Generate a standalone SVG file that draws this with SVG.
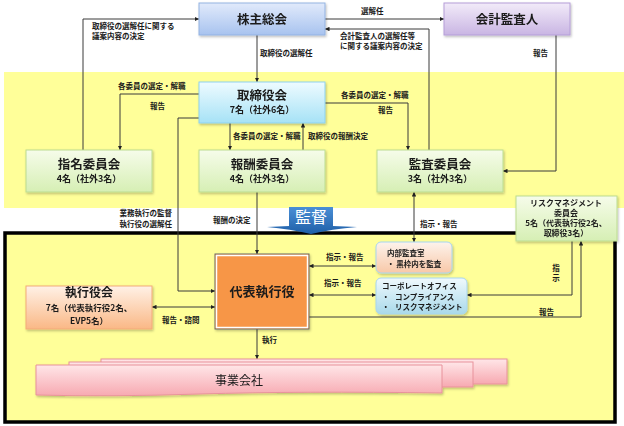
<svg xmlns="http://www.w3.org/2000/svg" width="624" height="426" viewBox="0 0 624 426">
<style>
text{font-family:"Noto Sans CJK JP","Noto Sans",sans-serif;fill:#1a1a1a;font-weight:bold}
.lb{font-size:7.5px}
.t{font-size:12.5px;text-anchor:middle}
.s{font-size:9px;text-anchor:middle}
.c{stroke:#3a3a3a;stroke-width:1;fill:none}
.a{marker-end:url(#ah)}
.b{marker-start:url(#as);marker-end:url(#ah)}
.m{font-size:7.5px}
</style>
<defs>
<marker id="ah" viewBox="0 0 8 8" refX="8" refY="4" markerWidth="4.5" markerHeight="4.5" orient="auto" markerUnits="userSpaceOnUse"><path d="M0,0L8,4L0,8z" fill="#222"/></marker>
<marker id="as" viewBox="0 0 8 8" refX="0" refY="4" markerWidth="4.5" markerHeight="4.5" orient="auto" markerUnits="userSpaceOnUse"><path d="M8,0L0,4L8,8z" fill="#222"/></marker>
<linearGradient id="gBlue" x1="0" y1="0" x2="0" y2="1"><stop offset="0" stop-color="#e1eafb"/><stop offset="1" stop-color="#a8c3ef"/></linearGradient>
<linearGradient id="gPur" x1="0" y1="0" x2="0" y2="1"><stop offset="0" stop-color="#f2ebf9"/><stop offset="1" stop-color="#c9b5e3"/></linearGradient>
<linearGradient id="gCyan" x1="0" y1="0" x2="0" y2="1"><stop offset="0" stop-color="#eefbff"/><stop offset="1" stop-color="#a6e2f6"/></linearGradient>
<linearGradient id="gGreen" x1="0" y1="0" x2="0" y2="1"><stop offset="0" stop-color="#f6fcea"/><stop offset="1" stop-color="#d6efb4"/></linearGradient>
<linearGradient id="gOr" x1="0" y1="0" x2="0" y2="1"><stop offset="0" stop-color="#fff1e6"/><stop offset="1" stop-color="#fab886"/></linearGradient>
<linearGradient id="gPeach" x1="0" y1="0" x2="0" y2="1"><stop offset="0" stop-color="#fdf3ec"/><stop offset="1" stop-color="#f8c8a8"/></linearGradient>
<linearGradient id="gLb" x1="0" y1="0" x2="0" y2="1"><stop offset="0" stop-color="#f0f9fd"/><stop offset="1" stop-color="#a9d9ea"/></linearGradient>
<linearGradient id="gPink" x1="0" y1="0" x2="0" y2="1"><stop offset="0" stop-color="#ffe6e8"/><stop offset="1" stop-color="#f7a9b1"/></linearGradient>
<linearGradient id="gKan" x1="0" y1="0" x2="0" y2="1"><stop offset="0" stop-color="#4a8fd6"/><stop offset="1" stop-color="#1f5fa8"/></linearGradient>
<filter id="sh" x="-10%" y="-10%" width="130%" height="140%"><feDropShadow dx="1" dy="1.5" stdDeviation="1" flood-color="#000" flood-opacity="0.25"/></filter>
</defs>

<!-- backgrounds -->
<rect x="4" y="72" width="620" height="136" fill="#ffff99"/>
<rect x="5" y="233" width="610" height="189" fill="#ffff99" stroke="#000" stroke-width="3.5"/>

<!-- connectors -->
<g id="connectors">
<path class="c a" d="M83,150V19H199"/>
<path class="c a" d="M199,94H120V150"/>
<path class="c a" d="M257,35V82"/>
<path class="c a" d="M325,19H444"/>
<path class="c a" d="M429,150V29H325"/>
<path class="c a" d="M556,35V171H503"/>
<path class="c a" d="M325,103H408V150"/>
<path class="c a" d="M230,123V150"/>
<path class="c a" d="M303,150V123"/>
<path class="c a" d="M199,118H178V291H215"/>
<path class="c a" d="M257,192V254"/>
<path class="c b" d="M414,192V242"/>
<path class="c b" d="M309,266H376"/>
<path class="c b" d="M309,295H376"/>
<path class="c a" d="M572,241V295H467"/>
<path class="c a" d="M309,317H581V241"/>
<path class="c a" d="M257,329V359"/>
<path class="c b" d="M152,307H215"/>
</g>

<!-- connector labels -->
<g id="labels" class="lb">
<text class="lb" x="92" y="29">取締役の選解任に関する</text>
<text class="lb" x="92" y="39">議案内容の決定</text>
<text class="lb" x="260" y="56">取締役の選解任</text>
<text class="lb" x="361" y="14">選解任</text>
<text class="lb" x="340" y="39">会計監査人の選解任等</text>
<text class="lb" x="340" y="49">に関する議案内容の決定</text>
<text class="lb" x="533" y="56">報告</text>
<text class="lb" x="118" y="89">各委員の選定・解職</text>
<text class="lb" x="150" y="109">報告</text>
<text class="lb" x="341" y="98">各委員の選定・解職</text>
<text class="lb" x="378" y="113">報告</text>
<text class="lb" x="233" y="139">各委員の選定・解職</text>
<text class="lb" x="308" y="139">取締役の報酬決定</text>
<text class="lb" x="172" y="216" text-anchor="end">業務執行の監督</text>
<text class="lb" x="172" y="227" text-anchor="end">執行役の選解任</text>
<text class="lb" x="213" y="223">報酬の決定</text>
<text class="lb" x="420" y="227">指示・報告</text>
<text class="lb" x="326" y="260">指示・報告</text>
<text class="lb" x="324" y="286">指示・報告</text>
<text class="lb" x="556" y="271" text-anchor="middle">指</text>
<text class="lb" x="556" y="281" text-anchor="middle">示</text>
<text class="lb" x="539" y="315">報告</text>
<text class="lb" x="262" y="343">執行</text>
<text class="lb" x="162" y="323">報告・諮問</text>
</g>

<!-- 監督 banner -->
<g id="kantoku">
<path d="M289,207H333V226L357,227Q332,229 311,234Q290,229 267,227L289,226Z" fill="url(#gKan)"/>
<text x="311" y="223" text-anchor="middle" style="font-size:16px;fill:#fff;font-weight:normal">監督</text>
</g>

<!-- nodes -->
<g id="kabunushi" filter="url(#sh)">
<rect x="199" y="3" width="126" height="32" fill="url(#gBlue)" stroke="#93b3e2"/>
<text class="t" x="262" y="24">株主総会</text>
</g>
<g id="kaikei" filter="url(#sh)">
<rect x="444" y="3" width="126" height="32" fill="url(#gPur)" stroke="#b59ed8"/>
<text class="t" x="507" y="24">会計監査人</text>
</g>
<g id="torishimari" filter="url(#sh)">
<rect x="199" y="82" width="126" height="41" fill="url(#gCyan)" stroke="#8fd2ee"/>
<text class="t" x="262" y="100">取締役会</text>
<text class="s" x="262" y="113">7名（社外6名）</text>
</g>
<g id="shimei" filter="url(#sh)">
<rect x="26" y="150" width="126" height="42" fill="url(#gGreen)" stroke="#bcdc90"/>
<text class="t" x="89" y="169">指名委員会</text>
<text class="s" x="89" y="182">4名（社外3名）</text>
</g>
<g id="houshu" filter="url(#sh)">
<rect x="199" y="150" width="126" height="42" fill="url(#gGreen)" stroke="#bcdc90"/>
<text class="t" x="262" y="169">報酬委員会</text>
<text class="s" x="262" y="182">4名（社外3名）</text>
</g>
<g id="kansa" filter="url(#sh)">
<rect x="377" y="150" width="126" height="42" fill="url(#gGreen)" stroke="#bcdc90"/>
<text class="t" x="440" y="169">監査委員会</text>
<text class="s" x="440" y="182">3名（社外3名）</text>
</g>
<g id="risk" filter="url(#sh)">
<rect x="516" y="196" width="101" height="45" fill="url(#gGreen)" stroke="#bcdc90"/>
<text class="s" x="566" y="206" style="font-size:8px">リスクマネジメント</text>
<text class="s" x="566" y="216" style="font-size:8px">委員会</text>
<text class="s" x="566" y="226" style="font-size:8px">5名（代表執行役2名、</text>
<text class="s" x="566" y="236" style="font-size:8px">取締役3名）</text>
</g>
<g id="daihyo" filter="url(#sh)">
<rect x="215" y="254" width="94" height="75" fill="#f79646" stroke="#6a6a6a" stroke-width="1"/>
<rect x="216.5" y="255.5" width="91" height="72" fill="none" stroke="#fff" stroke-width="1.5"/>
<text class="t" x="262" y="296" style="font-size:13px">代表執行役</text>
</g>
<g id="shikkoyakukai" filter="url(#sh)">
<rect x="26" y="286" width="126" height="43" fill="url(#gOr)" stroke="#f3ab78"/>
<text class="t" x="89" y="297" style="font-size:12px">執行役会</text>
<text class="s" x="89" y="311" style="font-size:8.5px">7名（代表執行役2名、</text>
<text class="s" x="89" y="323.5" style="font-size:8.5px">EVP5名）</text>
</g>
<g id="naibu" filter="url(#sh)">
<rect x="376" y="242" width="76" height="31" rx="5" fill="url(#gPeach)" stroke="#a8d6ee"/>
<text class="m" x="387" y="256">内部監査室</text>
<text class="m" x="387" y="267">・ 黒枠内を監査</text>
</g>
<g id="corporate" filter="url(#sh)">
<rect x="376" y="278" width="91" height="36" rx="5" fill="url(#gLb)" stroke="#a8d6ee"/>
<text class="m" x="382" y="289">コーポレートオフィス</text>
<text class="m" y="299.5"><tspan x="382">・</tspan><tspan x="395">コンプライアンス</tspan></text>
<text class="m" y="310"><tspan x="382">・</tspan><tspan x="395">リスクマネジメント</tspan></text>
</g>
<g id="jigyo" filter="url(#sh)">
<rect x="101" y="359" width="406" height="25" fill="url(#gPink)" stroke="#e8929b"/>
<rect x="69" y="362" width="404" height="25" fill="url(#gPink)" stroke="#e8929b"/>
<path d="M36,365H442V393Q300,391 200,394Q110,397 36,395Z" fill="url(#gPink)" stroke="#e8929b"/>
<text x="239" y="385" text-anchor="middle" style="font-size:12px;font-weight:normal">事業会社</text>
</g>
</svg>
